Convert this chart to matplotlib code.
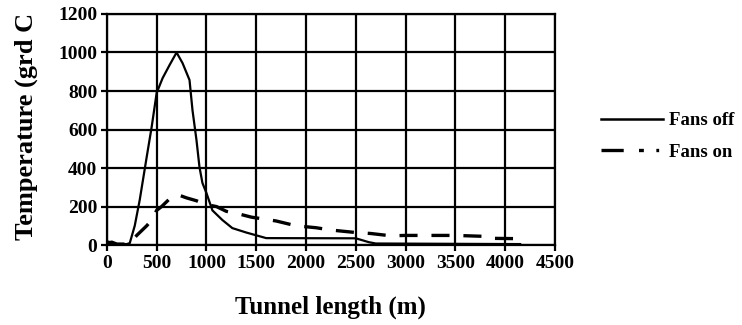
import matplotlib
matplotlib.use("Agg")
import matplotlib.pyplot as plt
from matplotlib.lines import Line2D

plt.rcParams["lines.scale_dashes"] = False

fans_off_x = [0, 50, 100, 200, 230, 280, 330, 400, 450, 500, 560, 630, 700, 760, 830, 860, 900, 930, 960,
              1000, 1060, 1160, 1260, 1400, 1600, 2500, 2630, 2700, 4150]
fans_off_y = [20, 12, 5, 5, 10, 100, 234, 457, 613, 790, 867, 935, 1000, 945, 857, 700, 545, 405, 322,
              270, 180, 130, 88, 65, 36, 35, 15, 8, 5]

fans_on_x = [0, 50, 100, 200, 250, 300, 400, 450, 500, 550, 650, 720, 800, 900, 1000, 1100, 1200, 1300, 1450,
             1700, 1900, 2100, 2250, 2500, 2650, 2850, 3000, 3300, 3500, 3800, 3850, 4150]
fans_on_y = [10, 15, 5, 5, 20, 50, 100, 130, 180, 200, 250, 260, 245, 230, 210, 200, 175, 165, 145,
             125, 100, 90, 78, 65, 60, 48, 50, 50, 50, 45, 35, 33]

x_ticks = [0, 500, 1000, 1500, 2000, 2500, 3000, 3500, 4000, 4500]
y_ticks = [0, 200, 400, 600, 800, 1000, 1200]

serif = ["Liberation Serif", "DejaVu Serif"]

fig = plt.figure(figsize=(7.42, 3.25), dpi=100)
ax = fig.add_axes([0.144, 0.246, 0.604, 0.711])

ax.plot(fans_off_x, fans_off_y, color="black", lw=1.6)
ax.plot(fans_on_x, fans_on_y, color="black", lw=2.4, dashes=(13, 10))

ax.set_xlim(0, 4500)
ax.set_ylim(0, 1200)
ax.set_xticks(x_ticks)
ax.set_yticks(y_ticks)
ax.grid(True, color="black", lw=1.6)
ax.set_axisbelow(True)
for s in ax.spines.values():
    s.set_linewidth(1.6)
ax.tick_params(direction="out", length=4, width=1.6, pad=3)
for lbl in ax.get_xticklabels() + ax.get_yticklabels():
    lbl.set_fontfamily(serif)
    lbl.set_fontweight("bold")
    lbl.set_fontsize(14)

ax.set_xlabel("Tunnel length (m)", fontfamily=serif, fontweight="bold", fontsize=18, labelpad=17)
fig.text(0.036, 0.26, "Temperature (grd C", rotation=90, ha="center", va="bottom",
         fontfamily=serif, fontweight="bold", fontsize=19)

handles = [Line2D([], [], color="black", lw=1.8),
           Line2D([], [], color="black", lw=2.4, dashes=(16, 11, 3.5, 9, 2, 10))]
leg = ax.legend(handles, ["Fans off", "Fans on"], loc="center left", bbox_to_anchor=(1.065, 0.47),
                frameon=False, prop={"family": serif, "weight": "bold", "size": 13.5},
                handlelength=3.3, labelspacing=0.75, handletextpad=0.3)

fig.savefig("out.png", dpi=100)
